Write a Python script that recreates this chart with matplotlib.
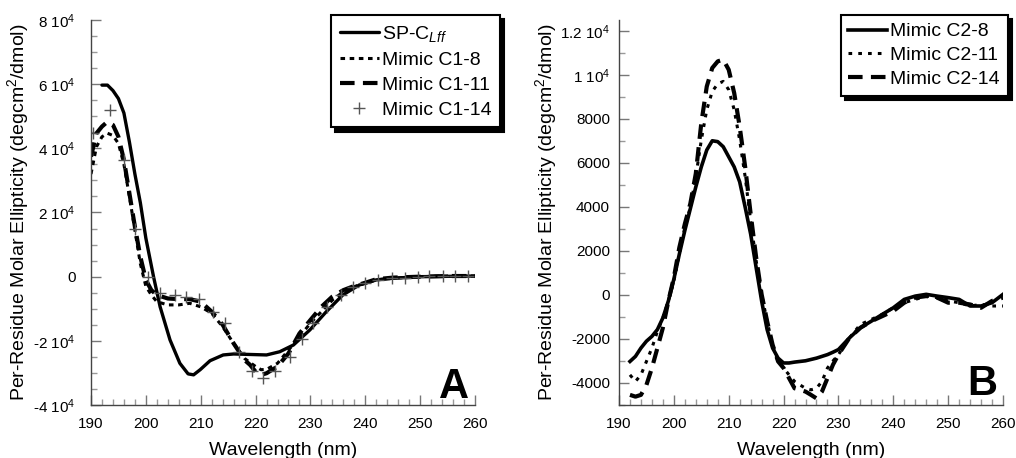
import numpy as np
import matplotlib
matplotlib.use("Agg")
import matplotlib.pyplot as plt
from matplotlib.ticker import MultipleLocator, FixedLocator

plt.rcParams['font.family'] = ['Liberation Sans', 'DejaVu Sans']
plt.rcParams['mathtext.fontset'] = 'custom'
plt.rcParams['mathtext.rm'] = 'Liberation Sans'
plt.rcParams['mathtext.it'] = 'Liberation Sans:italic'

# ---------------- Panel A data ----------------
spc_x = [192, 193, 194, 195, 196, 197, 198, 199, 200, 201.4, 202.6, 204.4, 206.2, 207.7,
         208.7, 209.9, 211.7, 214.1, 216, 222, 224.4, 226.9, 229.9, 232.9, 235.9, 238.9,
         242, 245, 250, 255, 260]
spc_y = [59700, 59700, 58000, 55500, 51000, 42000, 32000, 23000, 12000, 0, -9400, -19700,
         -27000, -30300, -30600, -29000, -26200, -24400, -24100, -24400, -23400, -21300,
         -16600, -10900, -5700, -2600, -1000, -500, 0, 100, 200]

c18_x = [190, 191, 192, 193, 194, 195, 196, 197, 198, 199, 200, 201, 202, 204, 206, 208,
         210, 212, 214, 216, 218, 220, 221, 222, 224, 226, 228, 230, 232, 234, 236, 238,
         240, 242, 245, 250, 255, 260]
c18_y = [32000, 40500, 43600, 44700, 44000, 41500, 35000, 25000, 14500, 4000, -3000,
         -5700, -7800, -8800, -8800, -8300, -9400, -11400, -15600, -20800, -25500, -28000,
         -29000, -28900, -27000, -22900, -18700, -14500, -10900, -7300, -4700, -3100,
         -1900, -1000, -500, 0, 200, 200]

c111_x = [190, 191, 192, 193, 194, 195, 196, 197, 198, 199, 200, 201, 202, 204, 206, 208,
          210, 212, 214, 216, 218, 219, 220, 221, 222, 224, 226, 228, 230, 232, 234, 236,
          238, 240, 242, 245, 250, 255, 260]
c111_y = [37400, 44700, 46800, 48300, 47300, 43600, 36400, 26000, 15600, 6200, -1000,
          -4200, -5700, -6800, -7000, -7000, -7800, -10900, -15000, -20800, -26000,
          -27500, -29600, -30600, -30100, -28000, -23900, -17700, -13500, -9400, -6200,
          -4200, -2900, -1900, -800, -300, 0, 200, 200]

c114_x = [190.4, 193.5, 196.0, 198.0, 200.3, 202.6, 205.3, 207.4, 209.6, 212.3, 214.4,
          216.9, 219.3, 221.3, 223.5, 226.3, 228.5, 230.5, 233.0, 235.5, 237.8, 240.0,
          242.4, 244.8, 247.2, 249.6, 251.7, 254.2, 256.3, 258.7]
c114_y = [44700, 52000, 36400, 15000, 0, -5200, -5700, -6200, -7000, -10900, -14500,
          -23400, -29300, -31700, -29400, -24900, -19500, -14500, -9500, -5800, -3100,
          -2000, -1000, -500, -300, 0, 200, 200, 200, 200]

# ---------------- Panel B data ----------------
b_x = [192, 193, 194, 195, 196, 197, 198, 199, 200, 201, 202, 203, 204, 205, 206, 207,
       208, 209, 210, 211, 212, 213, 214, 215, 216, 217, 218, 219, 220, 221, 222, 223,
       224, 225, 226, 227, 228, 229, 230, 232, 234, 236, 238, 240, 242, 244, 246, 248,
       250, 252, 254, 256, 258, 260]
c28_y = [-3020, -2790, -2410, -2100, -1880, -1570, -1040, -270, 720, 1860, 2930, 3920,
         4910, 5820, 6590, 7010, 6970, 6740, 6280, 5820, 5140, 3990, 2770, 1250, -270,
         -1570, -2410, -2870, -3090, -3090, -3050, -3020, -2990, -2930, -2870, -2790,
         -2710, -2600, -2480, -1950, -1490, -1190, -880, -580, -200, -50, 30, -50, -120,
         -200, -500, -500, -350, 30]
c211_y = [-3630, -3930, -3630, -3020, -2410, -1650, -1040, -270, 640, 1860, 3080, 3990,
          5370, 7040, 8420, 9250, 9600, 9710, 9330, 8420, 7040, 5370, 3380, 1560, 30,
          -1190, -2260, -3020, -3320, -3630, -3930, -4090, -4240, -4310, -4240, -3930,
          -3320, -3000, -2710, -1950, -1340, -1110, -880, -580, -350, -200, -50, -120,
          -270, -350, -500, -430, -500, -500]
c214_y = [-4540, -4620, -4540, -4090, -3320, -2410, -1490, -270, 790, 2160, 3230, 4150,
          5520, 7810, 9480, 10320, 10620, 10700, 10240, 9180, 7650, 5820, 3690, 1710, 30,
          -1190, -2260, -3020, -3320, -3780, -4240, -4310, -4390, -4540, -4700, -4390,
          -3780, -3170, -2710, -1950, -1490, -1190, -960, -730, -350, -120, -50, -120,
          -350, -350, -430, -580, -270, -120]

a_yticks = [-40000, -20000, 0, 20000, 40000, 60000, 80000]
a_yticklabels = ['-4 10$^4$', '-2 10$^4$', '0', '2 10$^4$', '4 10$^4$', '6 10$^4$', '8 10$^4$']
b_yticks = [-4000, -2000, 0, 2000, 4000, 6000, 8000, 10000, 12000]
b_yticklabels = ['-4000', '-2000', '0', '2000', '4000', '6000', '8000', '1 10$^4$', '1.2 10$^4$']
xticks = [190, 200, 210, 220, 230, 240, 250, 260]

fig = plt.figure(figsize=(10.16, 4.58), dpi=100)
axA = fig.add_axes([91/1016, 53/458, 384/1016, 385/458])
axB = fig.add_axes([619/1016, 53/458, 384/1016, 385/458])

ylabel = 'Per-Residue Molar Ellipticity (degcm$^2$/dmol)'

def style(ax, ypad):
    for s in ['top', 'right']:
        ax.spines[s].set_visible(False)
    for s in ['left', 'bottom']:
        ax.spines[s].set_color('#444444')
        ax.spines[s].set_linewidth(1.0)
    ax.tick_params(which='major', direction='in', length=7, width=1, color='#777777',
                   labelsize=11)
    ax.tick_params(which='minor', direction='in', length=4, width=1, color='#999999')
    ax.tick_params(axis='x', pad=9)
    ax.tick_params(axis='y', pad=ypad)
    ax.set_xlim(190, 260)
    ax.xaxis.set_major_locator(FixedLocator(xticks))
    ax.xaxis.set_minor_locator(MultipleLocator(2))
    ax.set_xlabel('Wavelength (nm)', fontsize=14)
    ax.set_ylabel(ylabel, fontsize=14)
    ax.xaxis.set_label_coords(0.5, -0.097)
    ax.yaxis.set_label_coords(-0.155, 0.5)

legkw = dict(loc='upper right', borderaxespad=0, fontsize=14, frameon=True,
             fancybox=False, handlelength=2.0, handletextpad=0.15,
             shadow={'color': 'black', 'alpha': 1.0, 'ox': 3, 'oy': -3})

# Panel A
axA.plot(spc_x, spc_y, color='black', lw=2.4, solid_capstyle='round', label='SP-C$_{Lff}$')
axA.plot(c18_x, c18_y, color='black', lw=2.2, ls=(0, (1.5, 1.5)), label='Mimic C1-8')
axA.plot(c111_x, c111_y, color='black', lw=3.0, ls=(0, (3.5, 2)), label='Mimic C1-11')
axA.plot(c114_x, c114_y, ls='none', marker='+', ms=9, mew=1.0, color='#555555',
         label='Mimic C1-14')
style(axA, 11)
axA.set_ylim(-40000, 80000)
axA.yaxis.set_major_locator(FixedLocator(a_yticks))
axA.set_yticklabels(a_yticklabels)
axA.yaxis.set_minor_locator(MultipleLocator(5000))
legA = axA.legend(bbox_to_anchor=(1.065, 1.013), labelspacing=0.38, borderpad=0.45,
                  **legkw)
legA.get_frame().set_edgecolor('black')
legA.get_frame().set_linewidth(1.5)
axA.text(0.985, 0.018, 'A', transform=axA.transAxes, ha='right', va='baseline',
         fontsize=30, fontweight='bold')

# Panel B
axB.plot(b_x, c28_y, color='black', lw=2.6, label='Mimic C2-8')
axB.plot(b_x, c211_y, color='black', lw=2.2, ls=(0, (1.2, 2.0)), label='Mimic C2-11')
axB.plot(b_x, c214_y, color='black', lw=3.0, ls=(0, (3.5, 2)), label='Mimic C2-14')
style(axB, 6.5)
axB.set_ylim(-5000, 12500)
axB.yaxis.set_major_locator(FixedLocator(b_yticks))
axB.set_yticklabels(b_yticklabels)
axB.yaxis.set_minor_locator(MultipleLocator(1000))
legB = axB.legend(bbox_to_anchor=(1.012, 1.013), labelspacing=0.32, borderpad=0.4,
                  **legkw)
legB.get_frame().set_edgecolor('black')
legB.get_frame().set_linewidth(1.5)
axB.text(0.985, 0.025, 'B', transform=axB.transAxes, ha='right', va='baseline',
         fontsize=30, fontweight='bold')

fig.savefig('out.png', dpi=100)
